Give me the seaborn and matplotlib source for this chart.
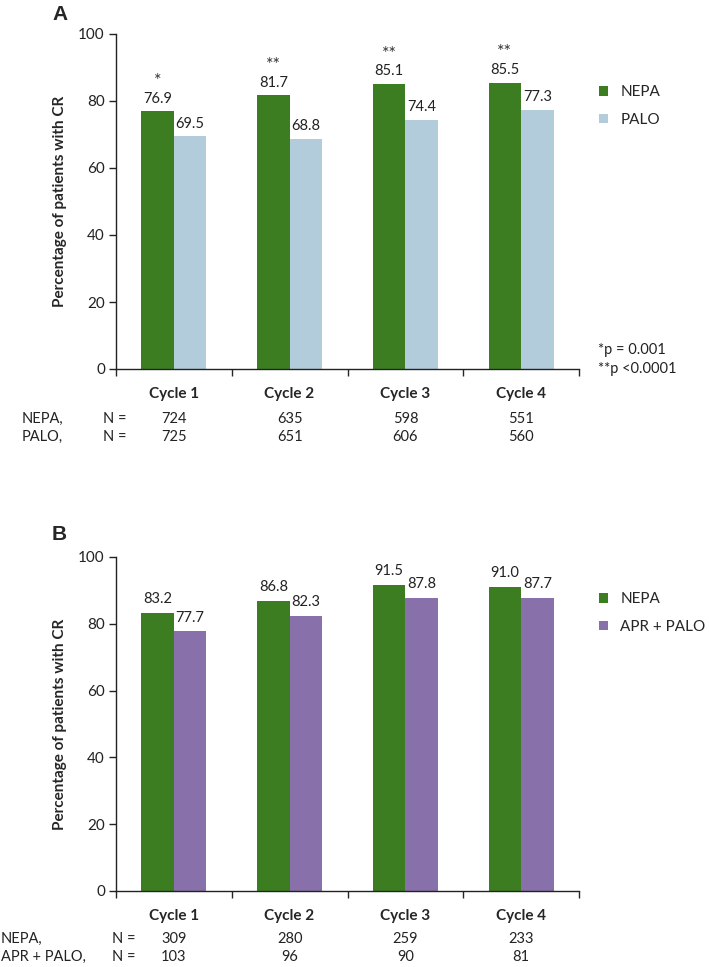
import numpy as np
import pandas as pd
import matplotlib
matplotlib.use('Agg')
import matplotlib.pyplot as plt
import matplotlib.transforms as mtransforms
from matplotlib.patches import Patch
import seaborn as sns

# data
cycles = ['Cycle 1', 'Cycle 2', 'Cycle 3', 'Cycle 4']

a_groups = ['NEPA', 'PALO']
a_nepa = [76.9, 81.7, 85.1, 85.5]
a_palo = [69.5, 68.8, 74.4, 77.3]
a_stars = ['*', '**', '**', '**']
a_n_nepa = [724, 635, 598, 551]
a_n_palo = [725, 651, 606, 560]
a_row_labels = ['NEPA,', 'PALO,']
a_notes = ['*p = 0.001', '**p <0.0001']

b_groups = ['NEPA', 'APR + PALO']
b_nepa = [83.2, 86.8, 91.5, 91.0]
b_apr = [77.7, 82.3, 87.8, 87.7]
b_n_nepa = [309, 280, 259, 233]
b_n_apr = [103, 96, 90, 81]
b_row_labels = ['NEPA,', 'APR + PALO,']

green = '#3c7d22'
light_blue = '#b3ccdb'
purple = '#8871ab'

sns.set_style('white')
plt.rcParams['font.family'] = ['Lato', 'DejaVu Sans']

fig = plt.figure(figsize=(7.09, 9.67), dpi=100)
W, H = 709, 967


def panel(bottom_px, top_px, groups, v1, v2, colors, stars, n1, n2,
          row_labels, row_x, nlab_x, row_y, letter, letter_y, leg_y, pad):
    ax = fig.add_axes([116 / W, (H - bottom_px) / H, 463 / W,
                       (bottom_px - top_px) / H])
    df = pd.DataFrame({
        'cycle': cycles * 2,
        'pct': v1 + v2,
        'group': [groups[0]] * 4 + [groups[1]] * 4,
    })
    sns.barplot(data=df, x='cycle', y='pct', hue='group', hue_order=groups,
                palette=colors, width=0.56, saturation=1, ax=ax,
                legend=False, errorbar=None, linewidth=0)
    ax.bar_label(ax.containers[0], labels=[f'{v:.1f}' for v in v1],
                 padding=pad, fontsize=10.5, color='#222222')
    ax.bar_label(ax.containers[1], labels=[f'{v:.1f}' for v in v2],
                 padding=pad, fontsize=10.5, color='#222222')
    if stars:
        ax.bar_label(ax.containers[0], labels=stars, padding=pad + 12,
                     fontsize=13, color='#333333')

    ax.set_xlim(-0.5, 3.5)
    ax.set_ylim(0, 100)
    ax.set_yticks([0, 20, 40, 60, 80, 100])
    ax.tick_params(axis='y', direction='out', length=5, width=1,
                   labelsize=11, pad=3, colors='#222222', left=True)
    ax.set_xticks(range(4))
    ax.set_xticklabels(cycles, fontsize=11, fontweight='bold')
    ax.set_xticks([-0.5, 0.5, 1.5, 2.5, 3.5], minor=True)
    ax.tick_params(axis='x', which='major', length=0, pad=13)
    ax.tick_params(axis='x', which='minor', direction='out', length=5,
                   width=1, bottom=True)
    ax.set_xlabel('')
    ax.set_ylabel('Percentage of patients with CR', fontsize=11,
                  fontweight='bold', labelpad=8)
    for s in ['top', 'right']:
        ax.spines[s].set_visible(False)
    for s in ['left', 'bottom']:
        ax.spines[s].set_color('#222222')
        ax.spines[s].set_linewidth(1)

    h = bottom_px - top_px
    trans = mtransforms.blended_transform_factory(ax.transData, ax.transAxes)
    tfig = mtransforms.blended_transform_factory(fig.transFigure, ax.transAxes)
    for r, (lab, ns) in enumerate(zip(row_labels, [n1, n2])):
        y = (bottom_px - row_y[r]) / h
        ax.text(row_x / W, y, lab, transform=tfig, ha='left', va='center',
                fontsize=10.5, color='#222222')
        ax.text(nlab_x / W, y, 'N =', transform=tfig, ha='left',
                va='center', fontsize=10.5, color='#222222')
        for i, n in enumerate(ns):
            ax.text(i, y, str(n), transform=trans, ha='center', va='center',
                    fontsize=10.5, color='#222222')

    fig.text(52 / W, 1 - letter_y / H, letter, fontsize=15,
             fontweight='bold', family='Liberation Sans', va='center',
             ha='left')

    handles = [Patch(facecolor=c, edgecolor='none') for c in colors]
    ax.legend(handles, groups, loc='center left',
              bbox_to_anchor=(599 / W, 1 - leg_y / H),
              bbox_transform=fig.transFigure, frameon=False,
              handlelength=0.6, handleheight=0.6, handletextpad=0.8,
              labelspacing=0.9, fontsize=11, borderpad=0, borderaxespad=0)
    return ax


ax_a = panel(369, 34, a_groups, a_nepa, a_palo, [green, light_blue],
             a_stars, a_n_nepa, a_n_palo, a_row_labels, 22, 103,
             [419, 437], 'A', 15, 106, 4)
for k, note in enumerate(a_notes):
    ax_a.text(598 / W, 1 - (350 + 19 * k) / H, note,
              transform=fig.transFigure, ha='left', va='center',
              fontsize=10.5, color='#222222')

ax_b = panel(891, 557, b_groups, b_nepa, b_apr, [green, purple],
             None, b_n_nepa, b_n_apr, b_row_labels, 1, 112,
             [939, 957], 'B', 535, 613, 5)

fig.savefig('out.png', dpi=100)
